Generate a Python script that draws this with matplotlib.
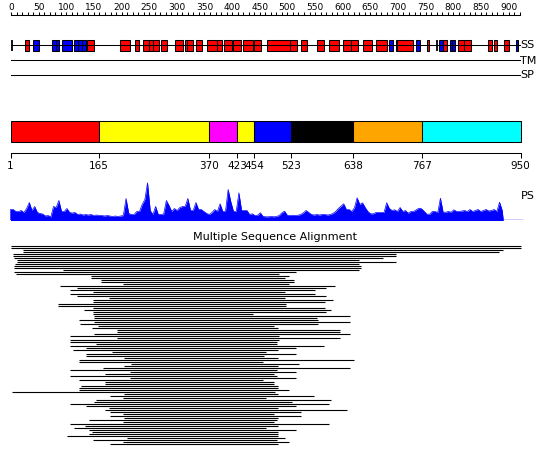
import numpy as np
import matplotlib
matplotlib.use("Agg")
import matplotlib.pyplot as plt
from matplotlib.patches import Rectangle

# ---- data ----
# secondary structure (residue numbers on the top ruler scale)
helix = [(25, 32), (138, 150), (198, 215), (224, 232), (238, 250), (250, 257), (257, 267),
         (271, 282), (297, 311), (315, 319), (319, 330), (334, 346), (355, 372), (372, 382),
         (385, 399), (402, 416), (420, 437), (440, 452), (464, 505), (505, 517), (525, 536),
         (554, 566), (576, 593), (601, 615), (615, 628), (636, 653), (660, 680), (698, 727),
         (753, 757), (782, 788), (808, 820), (820, 832), (863, 871), (874, 880), (892, 900)]
strand = [(39, 50), (75, 81), (81, 87), (93, 110), (114, 121), (121, 128), (128, 136),
          (684, 691), (696, 698), (733, 739), (775, 782), (794, 798), (798, 803), (913, 918)]
coil_marks = [1, 770]
ruler_end = 920

# domains
dom_bounds = [1, 165, 370, 423, 454, 523, 638, 767, 950]
dom_colors = ['#FF0000', '#FFFF00', '#FF00FF', '#FFFF00', '#0000FF', '#000000', '#FFA500', '#00FFFF']

# PS profile, sampled every 5 residues from residue 1
ps_values = [11, 11, 9, 9, 10, 8, 12, 18, 10, 14, 8, 7, 6.5, 4.5, 5, 3.5, 14, 13, 20, 9,
             9, 12, 8, 7.5, 8, 6, 6.5, 5.5, 6, 5.5, 6, 5, 5.5, 5, 5, 4.5, 5, 4.5, 4, 4.5,
             4, 4.5, 5, 22, 7, 6, 6, 9, 9, 16, 21, 37.7, 10, 6, 14, 6, 6, 6.5, 20, 15,
             9, 12, 10, 13, 14, 14, 22, 10, 10, 18, 11, 11, 9, 7, 6, 8, 11, 9, 16.7, 9,
             9, 31, 18.7, 9, 9, 27.7, 10, 10, 10, 6, 6.7, 5, 5.3, 7.7, 4, 3.7, 3.7, 4, 3.7, 4,
             5, 7.7, 9.3, 5.3, 5, 5.3, 5, 5.3, 6, 7.7, 10, 8, 6, 5.5, 6, 5.5, 6, 6, 5.5, 6,
             7, 9, 12, 14.3, 16.7, 11, 11, 9, 12.7, 22.7, 16, 17.7, 13, 9, 6.7, 6.7, 8, 8, 8, 8,
             17.7, 12, 10, 10.7, 9, 13, 9, 10, 7.3, 9, 9, 10.7, 12.3, 11.7, 9, 6.3, 6.3, 9, 9, 8,
             22.3, 8.3, 8.3, 9, 8.3, 10.7, 9, 9, 9.5, 10, 9, 11, 9, 10, 11, 9, 10, 11, 9.5, 10,
             11, 9, 18.3, 10]
ps_pos = np.arange(1, 917, 5)
seq_len = 950

# multiple sequence alignment: start / end residue of each aligned hit
msa_start = [1, 1, 24, 24, 6, 6, 8, 13, 13, 9, 8, 8, 98, 8, 11, 150, 150, 169, 169, 211,
             94, 124, 112, 155, 112, 124, 185, 155, 155, 89, 89, 155, 137, 155, 155, 156, 156, 129, 156, 130,
             163, 152, 200, 200, 156, 112, 200, 112, 112, 161, 112, 141, 117, 190, 141, 141, 213, 129, 129, 226,
             213, 174, 112, 223, 177, 112, 223, 129, 177, 177, 132, 129, 129, 4, 213, 187, 211, 161, 156, 111,
             142, 184, 177, 187, 211, 187, 213, 148, 211, 111, 140, 120, 148, 152, 148, 107, 218, 155, 211, 187]
msa_end = [950, 950, 917, 910, 719, 719, 695, 649, 718, 649, 654, 654, 649, 533, 501, 520, 512, 528, 528, 520,
           604, 589, 567, 512, 567, 589, 512, 602, 586, 514, 514, 586, 597, 588, 453, 633, 571, 573, 633, 573,
           492, 499, 614, 614, 633, 501, 614, 501, 497, 497, 584, 532, 499, 476, 532, 473, 499, 641, 470, 537,
           499, 633, 497, 533, 492, 497, 533, 470, 492, 492, 499, 499, 520, 494, 499, 565, 476, 597, 525, 593,
           532, 499, 627, 541, 492, 541, 499, 497, 492, 593, 499, 476, 533, 499, 499, 499, 512, 497, 520, 499]

# ---- figure ----
W, H = 550, 465
fig = plt.figure(figsize=(W / 100, H / 100), dpi=100)
fig.patch.set_facecolor('white')

# domain-scale axes: residue 1 -> px 10.5, residue 950 -> px 520.5
s_dom = 510 / 949
ax = fig.add_axes([0, 0, 1, 1])
ax.set_xlim(1 - 10.5 / s_dom, 1 + 539.5 / s_dom)
ax.set_ylim(H, 0)
ax.axis('off')

# top ruler axes: residue 0 -> px 11
s_top = 0.5528
axt = fig.add_axes([0, 0, 1, 1])
axt.set_xlim(-11 / s_top, 539 / s_top)
axt.set_ylim(H, 0)
axt.axis('off')

lw = 0.75
fs = 8

# ruler
axt.plot([0, ruler_end], [15.5, 15.5], color='k', lw=lw)
axt.vlines(np.arange(0, ruler_end + 1, 10), 12, 15.5, color='k', lw=lw)
for v in range(0, 901, 50):
    axt.text(v, 11.8, str(v), ha='center', va='bottom', fontsize=6.5)

# SS track
axt.plot([0, ruler_end], [45.5, 45.5], color='k', lw=lw)
for s, e in helix:
    axt.add_patch(Rectangle((s, 40), e - s, 11, fc='#FF0000', ec='k', lw=lw))
for s, e in strand:
    axt.add_patch(Rectangle((s, 40), e - s, 11, fc='#0000FF', ec='k', lw=lw))
axt.vlines(coil_marks, 40, 51, color='k', lw=1.3)

# TM / SP tracks
axt.plot([0, ruler_end], [60.5, 60.5], color='k', lw=lw)
axt.plot([0, ruler_end], [75.5, 75.5], color='k', lw=lw)
for lab, y in [('SS', 45.5), ('TM', 60.5), ('SP', 75.5)]:
    fig.text(520.5 / W, 1 - y / H, lab, ha='left', va='center', fontsize=fs)

# domain bar
for i, c in enumerate(dom_colors):
    a, b = dom_bounds[i], dom_bounds[i + 1]
    ax.add_patch(Rectangle((a, 120.5), b - a, 21, fc=c, ec='k', lw=lw))
ax.plot([dom_bounds[0], dom_bounds[-1]], [153.5, 153.5], color='k', lw=lw)
ax.vlines(dom_bounds, 153.5, 158.5, color='k', lw=lw)
for v in dom_bounds:
    ax.text(v, 166, str(v), ha='center', va='center', fontsize=7.5)

# PS profile
axp = fig.add_axes([0, 1 - 220.5 / H, 1, 40 / H])
axp.set_xlim(ax.get_xlim())
axp.set_ylim(0, 40)
axp.axis('off')
xs = np.concatenate([[ps_pos[0]], ps_pos, [ps_pos[-1] + 2]])
ys = np.concatenate([[0], ps_values, [0]])
axp.fill_between(xs, 0, ys, color='#0000FF', lw=0)
axp.plot(xs, ys, color='#0000FF', lw=0.5)
axp.plot([1, seq_len + 3], [0, 0], color='#0000FF', lw=1)
fig.text(521 / W, 1 - 196 / H, 'PS', ha='left', va='center', fontsize=fs)

# MSA
fig.text(275 / W, 1 - 236.5 / H, 'Multiple Sequence Alignment', ha='center', va='center', fontsize=fs)
rows = 245.5 + 2 * np.arange(len(msa_start))
ax.hlines(rows, msa_start, msa_end, color='k', lw=0.8)

fig.savefig('out.png', dpi=100, facecolor='white')
